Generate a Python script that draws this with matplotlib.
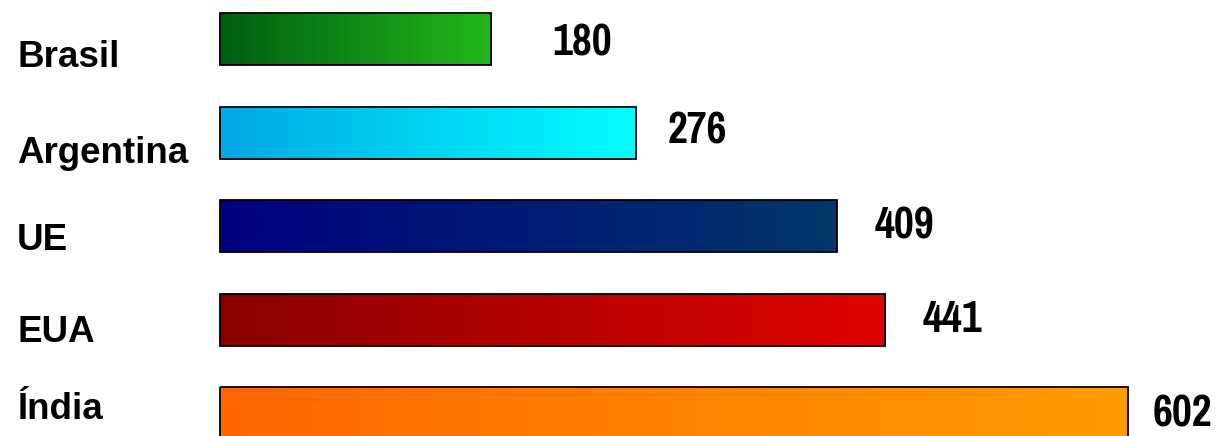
import numpy as np
import matplotlib
matplotlib.use("Agg")
import matplotlib.pyplot as plt
from matplotlib.colors import LinearSegmentedColormap
from matplotlib import font_manager

categories = ["Brasil", "Argentina", "UE", "EUA", "Índia"]
values = [180, 276, 409, 441, 602]
value_labels = ["180", "276", "409", "441", "602"]

# styles
grad_colors = [
    ("#005e12", "#22b81a"),
    ("#00a8e6", "#00ffff"),
    ("#000080", "#00376a"),
    ("#8a0000", "#e00400"),
    ("#ff6600", "#ff9c00"),
]
# text offsets in pixels (dx, dy baseline relative to bar center, +down)
val_off = [(61, 16), (31, 10.5), (38, 12), (38, 12), (25, 13.5)]
cat_off = [(-203, 28), (-203, 30.5), (-203, 24), (-203, 22), (-203, 5.5)]

W, H, DPI = 12.16, 4.36, 100
fig = plt.figure(figsize=(W, H), dpi=DPI)
ax = fig.add_axes([0, 0, 1, 1])
ax.set_axis_off()

px_per_unit = 1.508
pitch = 93.6
first_center = 39.0
bar_h = 52 / pitch
ypos = np.arange(len(categories))
bars = ax.barh(ypos, values, height=bar_h, facecolor="none",
               edgecolor="black", linewidth=1.3, zorder=3)

grad = np.linspace(0, 1, 256).reshape(1, -1)
for b, (c0, c1) in zip(bars, grad_colors):
    cmap = LinearSegmentedColormap.from_list("g", [c0, c1])
    x0, y0 = b.get_x(), b.get_y()
    w, h = b.get_width(), b.get_height()
    im = ax.imshow(grad, cmap=cmap, aspect="auto", interpolation="bilinear",
                   extent=(x0, x0 + w, y0 + h, y0), zorder=2)
    im.set_clip_path(b)
ax.set_xlim(-220 / px_per_unit, (1216 - 220) / px_per_unit)
ax.set_ylim((436 - first_center) / pitch, -first_center / pitch)

names = {f.name for f in font_manager.fontManager.ttflist}
narrow = next((n for n in ["Pragati Narrow", "Roboto Condensed", "Archivo Narrow",
                           "PT Sans Narrow", "Liberation Sans"] if n in names))

k = 72 / DPI
for i, (v, lab) in enumerate(zip(values, value_labels)):
    dx, dy = val_off[i]
    ax.annotate(lab, xy=(v, i), xytext=(dx * k, -dy * k), textcoords="offset points",
                ha="left", va="baseline", fontsize=34, fontweight="bold",
                family=narrow, color="black")
for i, cat in enumerate(categories):
    dx, dy = cat_off[i]
    ax.annotate(cat, xy=(0, i), xytext=(dx * k, -dy * k), textcoords="offset points",
                ha="left", va="baseline", fontsize=26.5, fontweight="bold",
                family="Liberation Sans", color="black")

fig.savefig("out.png", dpi=DPI)
